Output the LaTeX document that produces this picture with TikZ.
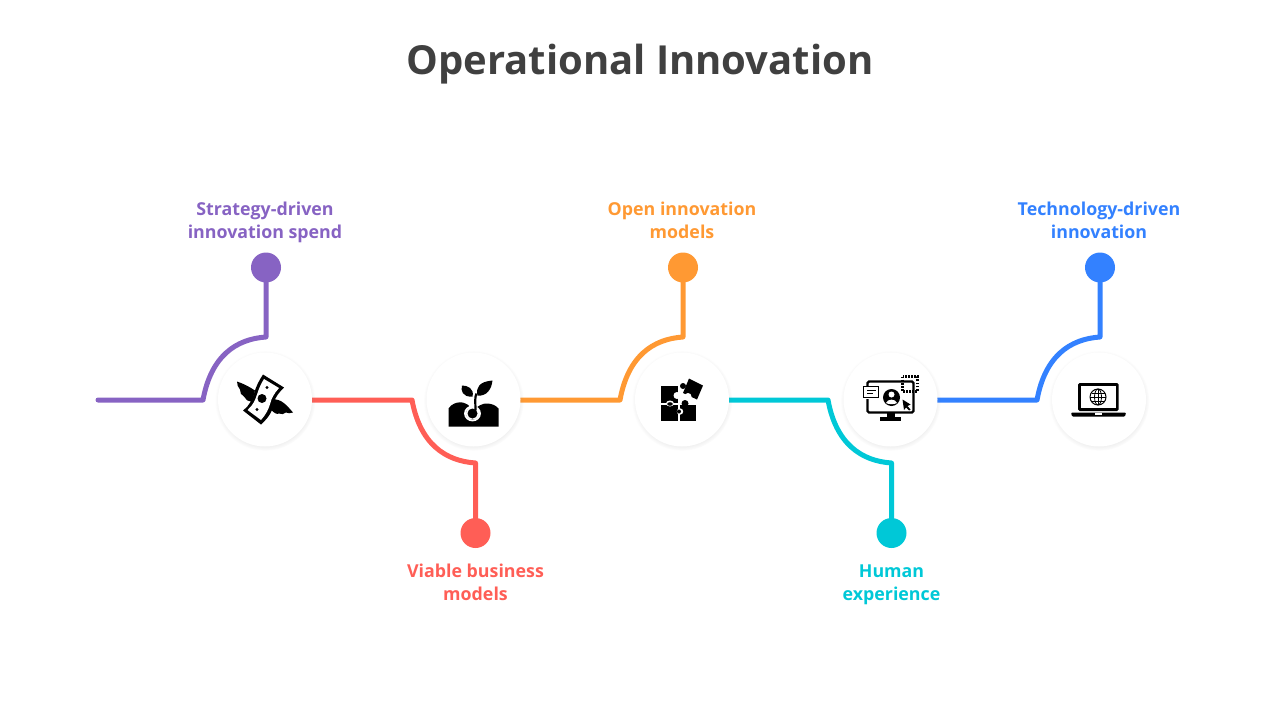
\documentclass[tikz,border=0pt]{standalone}
\usepackage{fontspec}
\setmainfont{Open Sans}
\usetikzlibrary{positioning, shadows, backgrounds}
\definecolor{titlegray}{HTML}{404040}
\definecolor{cpurple}{HTML}{8763C3}
\definecolor{cred}{HTML}{FF5E56}
\definecolor{corange}{HTML}{FF9933}
\definecolor{ccyan}{HTML}{00C8D7}
\definecolor{cblue}{HTML}{3381FF}
\tikzstyle{iconcircle} = [circle, fill=white, minimum size=94pt, inner sep=0pt, outer sep=0pt, circular drop shadow={shadow scale=1.07, shadow xshift=0pt, shadow yshift=-1pt, opacity=0.18}]
\tikzstyle{dotnode} = [circle, minimum size=30pt, inner sep=0pt, outer sep=0pt]
\tikzstyle{link} = [line width=5pt, line cap=round, line join=round]
\tikzstyle{caption} = [align=center, inner sep=0pt, font=\fontsize{17.8}{23}\selectfont\bfseries]
\tikzstyle{ink} = [fill=black, draw=none]

\begin{document}
\begin{tikzpicture}[x=1pt, y=-1pt]
  \useasboundingbox (0,0) rectangle (1280,720);

  \node (title) at (640,64) [text=titlegray, font=\fontsize{40}{48}\selectfont\bfseries] {Operational Innovation};

  % Icon circles
  \node (icon1) at (265,399.5) [iconcircle] {};
  \node (icon2) [iconcircle, right=114.5pt of icon1] {};
  \node (icon3) [iconcircle, right=114.5pt of icon2] {};
  \node (icon4) [iconcircle, right=114.5pt of icon3] {};
  \node (icon5) [iconcircle, right=114.5pt of icon4] {};

  % End dots
  \node (dot1) [dotnode, fill=cpurple, above=70pt of icon1, xshift=1pt] {};
  \node (dot2) [dotnode, fill=cred, below=71.5pt of icon2, xshift=2pt] {};
  \node (dot3) [dotnode, fill=corange, above=70pt of icon3, xshift=1pt] {};
  \node (dot4) [dotnode, fill=ccyan, below=71.5pt of icon4, xshift=1pt] {};
  \node (dot5) [dotnode, fill=cblue, above=70pt of icon5, xshift=1pt] {};

  % Labels
  \node (label1) [caption, text=cpurple, above=10pt of dot1, xshift=-1pt] {Strategy-driven\\innovation spend};
  \node (label2) [caption, text=cred, below=16pt of dot2] {Viable business\\models};
  \node (label3) [caption, text=corange, above=14pt of dot3, xshift=-1pt] {Open innovation\\models};
  \node (label4) [caption, text=ccyan, below=17pt of dot4] {Human\\experience};
  \node (label5) [caption, text=cblue, above=14pt of dot5, xshift=-1pt] {Technology-driven\\innovation};

  % Connector corners
  \coordinate (start1) at (98,400);
  \coordinate (bend1) at (203,400);
  \coordinate (top1) at (266,337);
  \coordinate (bend2) at (412,400);
  \coordinate (top2) at (475.5,463);
  \coordinate (bend3) at (620,400);
  \coordinate (top3) at (683,337);
  \coordinate (bend4) at (828,400);
  \coordinate (top4) at (891.5,463);
  \coordinate (bend5) at (1037,400);
  \coordinate (top5) at (1100,337);

  % Connectors
  \begin{scope}[on background layer]
    \draw[link, cpurple] (start1) -- (bend1) .. controls +(8,-44) and +(-30,2) .. (top1) -- (dot1);
    \draw[link, cred] (icon1.center |- bend2) -- (bend2) .. controls +(8,44) and +(-30,-2) .. (top2) -- (dot2);
    \draw[link, corange] (icon2.center |- bend3) -- (bend3) .. controls +(8,-44) and +(-30,2) .. (top3) -- (dot3);
    \draw[link, ccyan] (icon3.center |- bend4) -- (bend4) .. controls +(8,44) and +(-30,-2) .. (top4) -- (dot4);
    \draw[link, cblue] (icon4.center |- bend5) -- (bend5) .. controls +(8,-44) and +(-30,2) .. (top5) -- (dot5);
  \end{scope}

  % Flying banknote
  \begin{scope}[shift={(icon1.center)}]
    \fill[ink] (-28,-18) .. controls (-22,-16) and (-16,-13) .. (-10,-9) -- (-13,2) .. controls (-17,2) and (-20,0) .. (-21,-3) .. controls (-24,-4) and (-25,-7) .. (-25,-10) .. controls (-27,-12) and (-28,-15) .. (-28,-18) -- cycle;
    \fill[ink] (8,0) .. controls (16,-1) and (22,6) .. (28,13) .. controls (25,14) and (23,14) .. (21,13) .. controls (19,15) and (16,15) .. (14,14) .. controls (12,15) and (9,14) .. (5,9) -- cycle;
    \fill[ink] (-2,-25) -- (19,-12) .. controls (14,-7) and (10,-2) .. (9,3) .. controls (8,10) and (5,17) .. (-4,25) -- (-22,11) .. controls (-16,7) and (-13,0) .. (-11,-6) .. controls (-9,-13) and (-6,-19) .. (-2,-25) -- cycle;
    \fill[white] (-1,-20.5) -- (14,-11.5) .. controls (9,-6) and (6.5,-1) .. (5.5,3) .. controls (4,9) and (1,15) .. (-4,20.5) -- (-17.5,10.5) .. controls (-12,6) and (-9.5,0) .. (-8,-5) .. controls (-6,-11) and (-4,-16) .. (-1,-20.5) -- cycle;
    \fill[ink] (-3,-1) circle (4.5);
    \fill[ink] (2,-12) circle (1.7);
    \fill[ink] (-8,10) circle (1.7);
  \end{scope}

  % Sprout in soil
  \begin{scope}[shift={(icon2.center)}]
    \fill[ink] (-25,27) -- (-25,9) .. controls (-22,4) and (-16,3) .. (-15,3) .. controls (-12,2) and (-8,4) .. (-6,5) -- (-3,8) .. controls (-10,10) and (-10,20) .. (-1,20) .. controls (8,20) and (8,10) .. (3,8) -- (6,6) .. controls (10,3) and (20,3) .. (25,9) -- (25,27) -- cycle;
    \draw[white, line width=1.8pt] (-1,14) ellipse (7.5 and 7);
    \fill[ink] (-1,14) circle (5);
    \draw[black, line width=2.2pt] (2,11) .. controls (2,3) and (1,-2) .. (3,-6);
    \fill[ink] (-1,-3) .. controls (-11,-2) and (-13,-9) .. (-11.5,-14) .. controls (-6,-14) and (1,-11) .. (-1,-3) -- cycle;
    \fill[ink] (4,-4) .. controls (2,-12) and (6,-18) .. (19,-19) .. controls (18,-10) and (13,-3) .. (4,-4) -- cycle;
  \end{scope}

  % Puzzle pieces
  \begin{scope}[shift={(icon3.center)}]
    \fill[ink] (-21,-13.5) rectangle (-4,3);
    \fill[ink] (-21,5) rectangle (-4,21);
    \fill[ink] (-2,5) rectangle (14,21);
    \fill[white] (-5,-4) circle (3.5);
    \fill[white] (-12,4) ellipse (4 and 3);
    \fill[ink] (-12,4.5) ellipse (2.8 and 1.8);
    \fill[ink] (3,4) circle (3.5);
    \fill[white] (-2,12) circle (3.2);
    \fill[ink] (-3,12) circle (2);
    \fill[ink] (7,-21) -- (21,-14) -- (15,0) -- (1,-6.5) -- cycle;
    \fill[ink] (1,-13.5) circle (3);
    \fill[white] (6,-3) circle (3.5);
  \end{scope}

  % Monitor with user
  \begin{scope}[shift={(icon4.center)}]
    \draw[black, line width=2.2pt, dash pattern=on 1.8pt off 1.3pt] (12,-23) rectangle (27,-8);
    \draw[black, line width=2.4pt, rounded corners=1.5pt] (-23,-18) rectangle (23,13);
    \fill[ink] (-4,13) rectangle (4,18);
    \fill[ink] (-10.5,17.5) rectangle (10.5,21);
    \fill[white] (-29,-14) rectangle (-11,-1);
    \draw[black, line width=1.7pt] (-27,-13) rectangle (-12,-2);
    \fill[ink] (-24,-10) rectangle (-15,-8.4);
    \fill[ink] (-24,-7) rectangle (-18,-5.4);
    \fill[ink] (1,-2) circle (8.5);
    \fill[white] (1,-5) circle (3);
    \fill[white] (-4.5,3.5) .. controls (-3,-1) and (5,-1) .. (6.5,3.5) .. controls (4,5) and (-2,5) .. (-4.5,3.5) -- cycle;
    \fill[ink] (12,0) -- (20,5) -- (17,6.5) -- (20,10) -- (18.5,11) -- (15.5,8) -- (13.5,10.5) -- cycle;
  \end{scope}

  % Laptop with globe
  \begin{scope}[shift={(icon5.center)}]
    \fill[ink, rounded corners=1.5pt] (-21,-16.5) rectangle (19.5,11.5);
    \fill[white] (-18,-13.5) rectangle (16.5,8.5);
    \fill[ink, rounded corners=1pt] (-28,13) -- (27,13) -- (26,17) -- (-27,17) -- cycle;
    \fill[white] (-4,13) rectangle (3,15);
    \draw[black, line width=1pt] (-1,-2.5) circle (8);
    \draw[black, line width=0.8pt] (-1,-2.5) ellipse (3.5 and 8);
    \draw[black, line width=0.8pt] (-1,-10.5) -- (-1,5.5);
    \draw[black, line width=0.8pt] (-9,-2.5) -- (7,-2.5);
    \draw[black, line width=0.8pt] (-7.5,-6.5) -- (5.5,-6.5);
    \draw[black, line width=0.8pt] (-7.5,1.5) -- (5.5,1.5);
  \end{scope}

\end{tikzpicture}
\end{document}
